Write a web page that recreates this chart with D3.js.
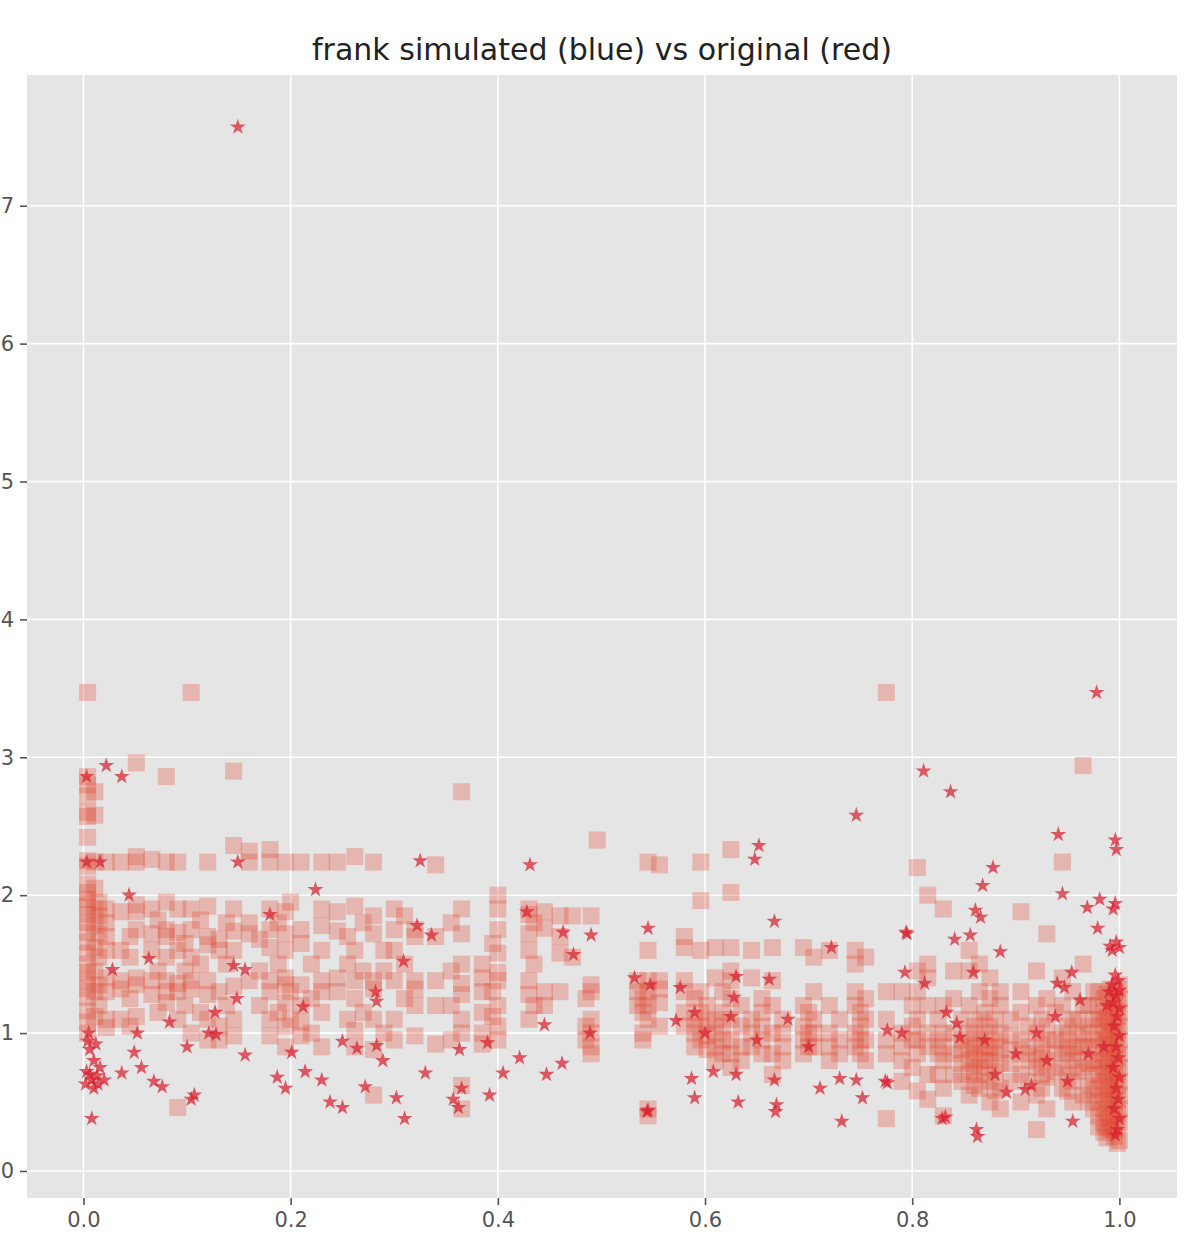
<!DOCTYPE html>
<html>
<head>
<meta charset="utf-8">
<script src="https://cdn.jsdelivr.net/npm/d3@7"></script>
<style>
  body { margin: 0; background: #fff; }
  .plotBg { fill: #e5e5e5; }
  .grid line { stroke: #fff; stroke-width: 1.6; }
  .axis path { display: none; }
  .axis line { stroke: #555; stroke-width: 1.6; }
  .axis text { fill: #555; font-family: "DejaVu Sans", sans-serif; font-size: 21px; }
  .title { font-family: "DejaVu Sans", sans-serif; font-size: 30px; fill: #222; }
</style>
</head>
<body>
<script>
(function(){

//tick values
var xTicks = [0.0, 0.2, 0.4, 0.6, 0.8, 1.0];
var yTicks = [0, 1, 2, 3, 4, 5, 6, 7];

//simulated sample (squares): each entry is [x, list of y values in that column]
var simColumns = [
  [0.004, [3.47, 2.86, 2.80, 2.72, 2.60, 2.57, 2.42, 2.25, 2.21, 2.08, 2.02, 1.97, 1.92, 1.86, 1.80, 1.73, 1.66, 1.58, 1.50, 1.44, 1.38, 1.32, 1.26, 1.16, 1.08, 1.00]],
  [0.011, [2.75, 2.58, 2.24, 2.05, 1.90, 1.78, 1.62, 1.45, 1.30, 1.12]],
  [0.015, [1.95, 1.85, 1.72, 1.55, 1.35, 1.20]],
  [0.022, [2.24, 1.90, 1.80, 1.70, 1.60, 1.40, 1.30, 1.10, 1.04]],
  [0.036, [2.24, 1.88, 1.60, 1.38, 1.32, 1.10]],
  [0.045, [1.70, 1.55, 1.25, 1.05]],
  [0.051, [2.96, 2.28, 2.24, 1.93, 1.88, 1.75, 1.40, 1.35, 1.12]],
  [0.066, [2.26, 1.90, 1.72, 1.60, 1.38, 1.28]],
  [0.072, [1.82, 1.45, 1.15]],
  [0.080, [2.86, 2.24, 1.95, 1.75, 1.70, 1.55, 1.38, 1.30, 1.22]],
  [0.091, [2.24, 1.90, 1.73, 1.60, 1.36, 1.30, 1.10, 0.46]],
  [0.098, [1.65, 1.45, 1.20]],
  [0.104, [3.47, 1.90, 1.75, 1.55, 1.38, 1.32, 1.00]],
  [0.113, [1.82, 1.50, 1.15]],
  [0.120, [2.24, 1.92, 1.70, 1.64, 1.38, 1.28, 1.10, 0.95]],
  [0.131, [1.68, 1.60, 1.30, 1.05, 0.95]],
  [0.138, [1.80, 1.50, 1.20]],
  [0.145, [2.90, 2.36, 1.90, 1.74, 1.60, 1.34, 1.10, 0.98]],
  [0.160, [2.32, 2.24, 1.80, 1.72, 1.38]],
  [0.170, [1.68, 1.45, 1.20]],
  [0.180, [2.33, 2.24, 1.90, 1.75, 1.62, 1.38, 1.30, 1.10, 0.98]],
  [0.188, [1.80, 1.50, 1.15]],
  [0.195, [2.24, 1.88, 1.72, 1.60, 1.40, 1.35, 1.22, 1.05, 0.90]],
  [0.200, [1.95, 1.30, 1.10]],
  [0.210, [2.24, 1.75, 1.65, 1.35, 1.20, 1.08, 0.98]],
  [0.220, [1.50, 1.25, 1.00]],
  [0.230, [2.24, 1.90, 1.78, 1.60, 1.38, 1.30, 1.15, 0.90]],
  [0.245, [2.24, 1.88, 1.74, 1.40, 1.30]],
  [0.255, [1.70, 1.50, 1.10]],
  [0.262, [2.28, 1.92, 1.60, 1.38, 1.25, 1.02, 0.90]],
  [0.270, [1.80, 1.45, 1.15]],
  [0.280, [2.24, 1.85, 1.72, 1.38, 1.32, 1.10, 0.88, 0.55]],
  [0.290, [1.60, 1.45, 1.00]],
  [0.300, [1.90, 1.75, 1.60, 1.38, 1.10, 0.95]],
  [0.310, [1.85, 1.50, 1.25]],
  [0.320, [1.75, 1.70, 1.38, 1.32, 1.20, 0.98]],
  [0.340, [2.22, 1.70, 1.38, 1.20, 0.92]],
  [0.355, [1.80, 1.45, 1.20, 0.95]],
  [0.365, [2.75, 1.90, 1.72, 1.50, 1.36, 1.28, 1.10, 1.00, 0.62, 0.45]],
  [0.385, [1.50, 1.40, 1.30, 1.15, 1.00, 0.92]],
  [0.395, [1.65, 1.30, 1.12]],
  [0.400, [2.00, 1.90, 1.75, 1.58, 1.44, 1.38, 1.20, 1.05, 0.95]],
  [0.430, [1.90, 1.86, 1.72, 1.60, 1.38, 1.28, 1.10]],
  [0.435, [1.80, 1.50, 1.20]],
  [0.445, [1.88, 1.76, 1.30, 1.20]],
  [0.460, [1.85, 1.70, 1.58, 1.30]],
  [0.472, [1.85, 1.55]],
  [0.485, [1.25, 1.05, 0.95]],
  [0.490, [1.85, 1.35, 1.30, 1.10, 1.00, 0.90, 0.85]],
  [0.496, [2.40]],
  [0.535, [1.38, 1.30, 1.20]],
  [0.540, [1.25, 1.15, 1.00, 0.95]],
  [0.545, [2.24, 1.60, 1.38, 1.30, 1.20, 1.10, 0.45, 0.40]],
  [0.556, [2.22, 1.38, 1.32, 1.22, 1.05]],
  [0.580, [1.70, 1.62, 1.38, 1.30, 1.15, 1.05]],
  [0.590, [1.25, 1.10, 1.00, 0.90]],
  [0.596, [2.24, 1.96, 1.60, 1.30, 1.15, 1.05, 0.95]],
  [0.602, [1.20, 1.08, 0.98, 0.88]],
  [0.610, [1.62, 1.40, 1.10, 1.00, 0.90, 0.80]],
  [0.617, [1.30, 1.15, 1.05, 0.95, 0.85]],
  [0.625, [2.33, 2.02, 1.62, 1.45, 1.38, 1.25, 1.10, 0.95, 0.85, 0.75]],
  [0.635, [1.20, 1.05, 0.90, 0.80]],
  [0.645, [1.60, 1.40, 1.10, 1.00, 0.90]],
  [0.655, [1.25, 1.15, 1.05, 0.95, 0.85]],
  [0.665, [1.62, 1.38, 1.20, 1.00, 0.85, 0.70]],
  [0.675, [1.10, 1.00, 0.90, 0.80]],
  [0.695, [1.62, 1.20, 1.05, 0.95, 0.85]],
  [0.700, [1.15, 1.00, 0.90]],
  [0.705, [1.55, 1.30, 1.10, 1.00, 0.90]],
  [0.720, [1.60, 1.20, 1.00, 0.90, 0.80]],
  [0.730, [1.10, 0.95, 0.85]],
  [0.745, [1.60, 1.50, 1.30, 1.20, 1.00, 0.90]],
  [0.750, [1.15, 1.05, 0.95, 0.85]],
  [0.755, [1.55, 1.25, 1.10, 0.95, 0.80]],
  [0.775, [3.47, 1.30, 1.10, 0.95, 0.85, 0.38]],
  [0.790, [1.30, 1.00, 0.90, 0.80, 0.65]],
  [0.800, [1.20, 1.05, 0.95, 0.75]],
  [0.805, [2.20, 1.45, 1.30, 1.10, 0.95, 0.85, 0.58]],
  [0.815, [2.00, 1.50, 1.40, 1.20, 1.00, 0.90, 0.70, 0.52]],
  [0.825, [1.10, 0.95, 0.85, 0.70]],
  [0.830, [1.90, 1.20, 1.00, 0.90, 0.80, 0.60, 0.40]],
  [0.840, [1.45, 1.25, 1.00, 0.85, 0.70]],
  [0.848, [1.10, 0.95, 0.88, 0.78, 0.65]],
  [0.855, [1.60, 1.45, 1.20, 1.00, 0.90, 0.80, 0.70, 0.55]],
  [0.860, [1.05, 0.92, 0.82, 0.72, 0.62]],
  [0.865, [1.50, 1.30, 1.10, 0.95, 0.85, 0.75, 0.60]],
  [0.870, [1.15, 1.00, 0.90, 0.80, 0.70]],
  [0.875, [1.40, 1.25, 1.05, 0.90, 0.80, 0.65, 0.50]],
  [0.880, [1.10, 0.95, 0.85, 0.72, 0.58]],
  [0.885, [1.30, 1.20, 1.00, 0.90, 0.78, 0.60, 0.45]],
  [0.895, [1.10, 0.98, 0.88, 0.78, 0.65]],
  [0.905, [1.88, 1.30, 1.15, 0.95, 0.85, 0.70, 0.50]],
  [0.912, [1.05, 0.90, 0.80, 0.65]],
  [0.920, [1.45, 1.20, 1.00, 0.85, 0.75, 0.55, 0.30]],
  [0.925, [1.10, 0.92, 0.82, 0.70, 0.60]],
  [0.930, [1.72, 1.25, 1.05, 0.95, 0.80, 0.68, 0.45]],
  [0.938, [1.15, 0.95, 0.85, 0.72]],
  [0.945, [2.24, 1.40, 1.20, 1.00, 0.88, 0.75, 0.60]],
  [0.950, [1.05, 0.95, 0.85, 0.70, 0.58]],
  [0.955, [1.30, 1.10, 0.90, 0.80, 0.65, 0.50]],
  [0.960, [1.10, 0.98, 0.85, 0.72]],
  [0.965, [2.94, 1.50, 1.20, 1.00, 0.90, 0.75, 0.55]],
  [0.970, [1.20, 1.05, 0.90, 0.78, 0.62, 0.50]],
  [0.975, [1.30, 1.10, 0.95, 0.80, 0.70, 0.58, 0.45]],
  [0.980, [1.30, 1.20, 1.10, 1.00, 0.90, 0.80, 0.70, 0.60, 0.50, 0.40, 0.32]],
  [0.985, [1.25, 1.15, 1.05, 0.95, 0.85, 0.75, 0.65, 0.55, 0.45, 0.35, 0.28]],
  [0.988, [1.28, 1.12, 1.02, 0.92, 0.82, 0.72, 0.62, 0.52, 0.42, 0.32, 0.24]],
  [0.991, [1.32, 1.18, 1.08, 0.98, 0.88, 0.78, 0.68, 0.58, 0.48, 0.38, 0.30]],
  [0.995, [1.30, 1.20, 1.10, 1.00, 0.90, 0.80, 0.70, 0.60, 0.50, 0.40, 0.30, 0.25]],
  [0.998, [1.32, 1.22, 1.12, 1.02, 0.92, 0.82, 0.72, 0.62, 0.52, 0.42, 0.32, 0.20]],
  [1.000, [1.35, 1.25, 1.15, 1.05, 0.95, 0.85, 0.75, 0.65, 0.55, 0.45, 0.35, 0.22]]
];

//original sample (stars) as [x, y]
var origPoints = [
  [0.149, 7.57], [0.978, 3.47], [0.811, 2.90], [0.837, 2.75], [0.746, 2.58],
  [0.022, 2.94], [0.003, 2.86], [0.037, 2.86],
  [0.003, 2.24], [0.016, 2.24], [0.149, 2.24], [0.325, 2.25], [0.431, 2.22], [0.652, 2.36], [0.648, 2.26],
  [0.044, 2.00], [0.224, 2.04], [0.180, 1.86], [0.063, 1.54], [0.145, 1.49], [0.156, 1.46], [0.028, 1.46],
  [0.083, 1.08], [0.127, 1.15], [0.148, 1.25], [0.052, 1.00], [0.100, 0.90], [0.121, 1.00], [0.128, 0.99],
  [0.156, 0.84], [0.049, 0.86], [0.037, 0.71], [0.056, 0.75], [0.068, 0.65], [0.076, 0.61], [0.107, 0.55],
  [0.104, 0.52], [0.187, 0.68], [0.195, 0.60], [0.201, 0.86],
  [0.004, 0.94], [0.006, 0.88], [0.010, 0.80], [0.003, 0.72], [0.008, 0.66], [0.013, 0.69], [0.016, 0.75],
  [0.002, 0.63], [0.010, 0.60], [0.014, 0.63], [0.008, 0.38], [0.005, 1.00], [0.012, 0.92], [0.006, 0.70], [0.020, 0.66],
  [0.212, 1.19], [0.283, 1.23], [0.250, 0.94], [0.264, 0.89], [0.283, 0.91], [0.289, 0.80], [0.214, 0.72],
  [0.230, 0.66], [0.238, 0.50], [0.250, 0.46], [0.272, 0.61], [0.302, 0.53], [0.310, 0.38], [0.330, 0.71],
  [0.363, 0.88], [0.357, 0.52], [0.365, 0.60], [0.362, 0.46], [0.392, 0.55], [0.390, 0.93], [0.405, 0.71],
  [0.421, 0.82], [0.447, 0.70], [0.462, 0.78], [0.489, 1.00], [0.544, 0.43], [0.322, 1.78], [0.336, 1.71],
  [0.309, 1.52], [0.428, 1.88], [0.463, 1.73], [0.490, 1.71], [0.473, 1.57], [0.545, 1.76], [0.532, 1.40],
  [0.547, 1.35], [0.445, 1.06], [0.282, 1.30],
  [0.667, 1.81], [0.794, 1.73], [0.722, 1.62], [0.812, 1.36], [0.793, 1.44], [0.576, 1.33], [0.630, 1.41],
  [0.628, 1.26], [0.662, 1.39], [0.572, 1.09], [0.590, 1.15], [0.776, 1.02], [0.790, 1.00], [0.587, 0.67],
  [0.590, 0.53], [0.608, 0.72], [0.630, 0.70], [0.632, 0.50], [0.667, 0.66], [0.669, 0.48], [0.668, 0.43],
  [0.711, 0.60], [0.730, 0.67], [0.746, 0.66], [0.752, 0.53], [0.774, 0.65], [0.732, 0.36], [0.545, 0.44],
  [0.829, 0.38], [0.600, 1.00], [0.650, 0.95], [0.700, 0.90], [0.680, 1.10], [0.625, 1.12],
  [0.941, 2.44], [0.996, 2.40], [0.997, 2.33], [0.878, 2.20], [0.868, 2.07], [0.945, 2.01], [0.861, 1.89],
  [0.866, 1.84], [0.969, 1.91], [0.981, 1.97], [0.996, 1.94], [0.994, 1.90], [0.795, 1.72], [0.856, 1.71],
  [0.841, 1.68], [0.885, 1.59], [0.979, 1.76], [0.991, 1.63], [0.997, 1.66], [0.993, 1.60], [1.000, 1.62],
  [0.940, 1.36], [0.954, 1.44], [0.947, 1.33], [0.962, 1.24], [0.859, 1.44], [0.833, 1.15], [0.843, 1.07],
  [0.776, 0.64], [0.891, 0.57], [0.909, 0.59], [0.832, 0.39], [0.863, 0.25], [0.862, 0.30], [0.955, 0.36],
  [0.938, 1.12], [0.846, 0.97], [0.870, 0.95], [0.900, 0.85], [0.920, 1.00], [0.930, 0.80], [0.880, 0.70],
  [0.950, 0.65], [0.970, 0.85], [0.915, 0.62],
  [0.996, 1.42], [0.999, 1.38], [0.993, 1.35], [1.000, 1.31], [0.997, 1.27], [0.994, 1.22], [1.000, 1.18],
  [0.998, 1.12], [0.995, 1.05], [1.000, 0.98], [0.997, 0.90], [0.999, 0.82], [0.994, 0.75], [1.000, 0.68],
  [0.997, 0.60], [0.999, 0.52], [0.995, 0.45], [1.000, 0.38], [0.998, 0.30], [0.996, 0.26], [0.990, 1.30],
  [0.988, 1.20], [0.985, 0.90]
];

//frame
var width = 1192,
    height = 1241,
    plotLeft = 27,
    plotRight = 1177,
    plotTop = 75,
    plotBottom = 1198;

var svg = d3.select("body")
    .append("svg")
    .attr("width", width)
    .attr("height", height);

//scales (domains include matplotlib-like margins)
var xScale = d3.scaleLinear()
    .domain([-0.0545, 1.0556])
    .range([plotLeft, plotRight]);
var yScale = d3.scaleLinear()
    .domain([-0.196, 7.948])
    .range([plotBottom, plotTop]);

//plot background
svg.append("rect")
    .attr("class", "plotBg")
    .attr("x", plotLeft)
    .attr("y", plotTop)
    .attr("width", plotRight - plotLeft)
    .attr("height", plotBottom - plotTop);

//grid lines
var grid = svg.append("g").attr("class", "grid");
grid.selectAll(".gx")
    .data(xTicks)
    .enter()
    .append("line")
    .attr("x1", function(d){ return xScale(d); })
    .attr("x2", function(d){ return xScale(d); })
    .attr("y1", plotTop)
    .attr("y2", plotBottom);
grid.selectAll(".gy")
    .data(yTicks)
    .enter()
    .append("line")
    .attr("x1", plotLeft)
    .attr("x2", plotRight)
    .attr("y1", function(d){ return yScale(d); })
    .attr("y2", function(d){ return yScale(d); });

//flatten simulated columns into points
var simPoints = [];
simColumns.forEach(function(col){
    col[1].forEach(function(y){
        simPoints.push([col[0], y]);
    });
});

//squares
var sq = 17;
svg.append("g")
    .selectAll("rect")
    .data(simPoints)
    .enter()
    .append("rect")
    .attr("x", function(d){ return xScale(d[0]) - sq / 2; })
    .attr("y", function(d){ return yScale(d[1]) - sq / 2; })
    .attr("width", sq)
    .attr("height", sq)
    .style("fill", "#E24A33")
    .style("fill-opacity", 0.3);

//stars
var star = d3.symbol().type(d3.symbolStar).size(78);
svg.append("g")
    .selectAll("path")
    .data(origPoints)
    .enter()
    .append("path")
    .attr("d", star)
    .attr("transform", function(d){
        return "translate(" + xScale(d[0]) + "," + yScale(d[1]) + ")";
    })
    .style("fill", "#d8202e")
    .style("fill-opacity", 0.72);

//axes
var xAxis = d3.axisBottom(xScale)
    .tickValues(xTicks)
    .tickFormat(d3.format(".1f"))
    .tickSizeInner(7)
    .tickSizeOuter(0)
    .tickPadding(7);
svg.append("g")
    .attr("class", "axis")
    .attr("transform", "translate(0," + plotBottom + ")")
    .call(xAxis);

//y labels sit right at the left edge of the picture
var yAxis = d3.axisLeft(yScale)
    .tickValues(yTicks)
    .tickFormat(d3.format("d"))
    .tickSizeInner(7)
    .tickSizeOuter(0)
    .tickPadding(6);
svg.append("g")
    .attr("class", "axis")
    .attr("transform", "translate(" + plotLeft + ",0)")
    .call(yAxis);

//title
svg.append("text")
    .attr("class", "title")
    .attr("x", (plotLeft + plotRight) / 2)
    .attr("y", 60)
    .attr("text-anchor", "middle")
    .text("frank simulated (blue) vs original (red)");

})();
</script>
</body>
</html>
